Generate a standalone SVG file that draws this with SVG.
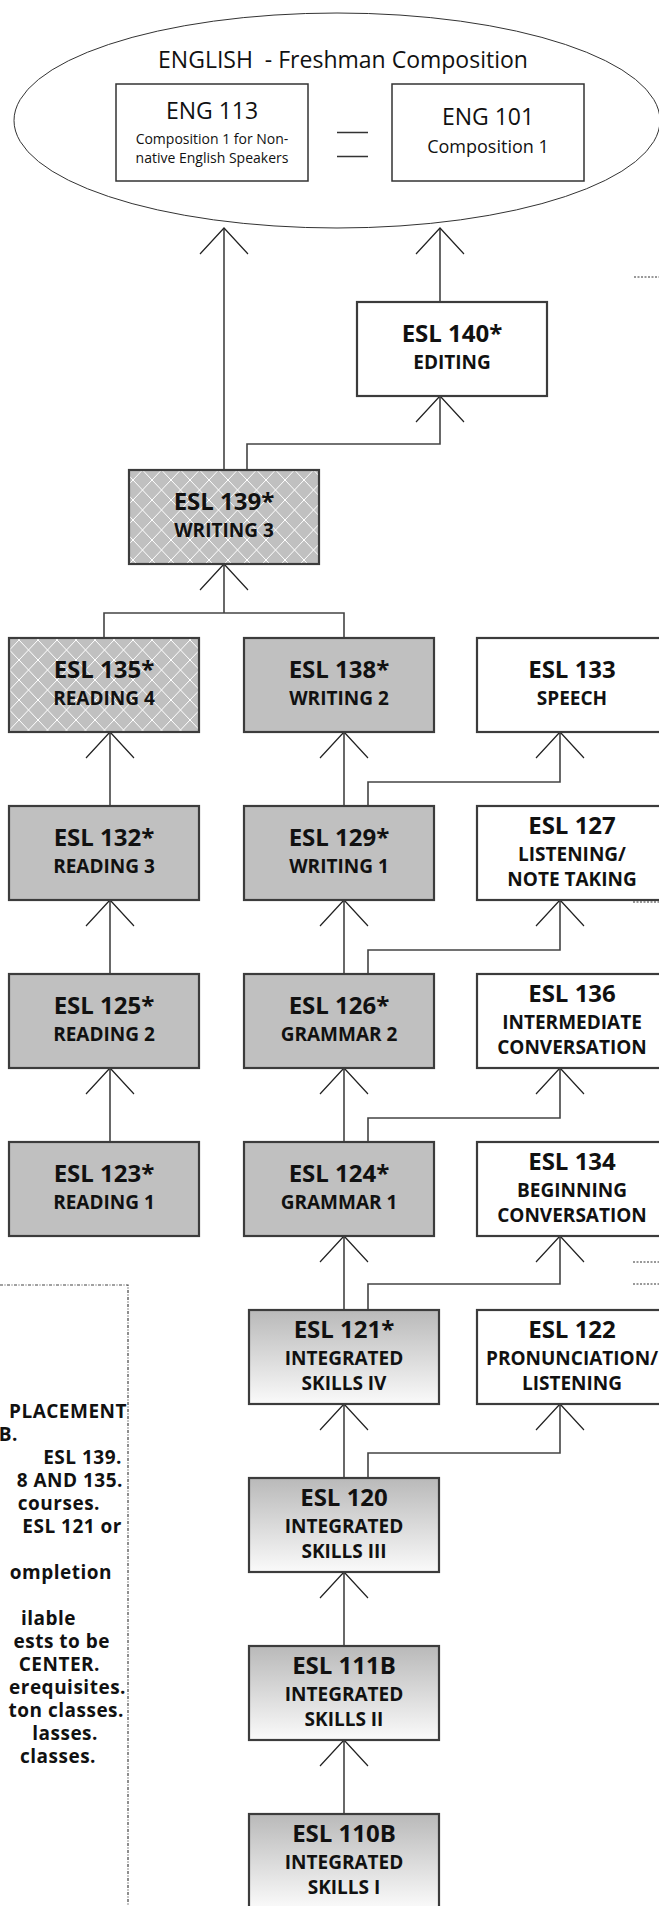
<svg xmlns="http://www.w3.org/2000/svg" width="659" height="1906" viewBox="0 0 659 1906">
<style>
.t{font-family:"Open Sans","Noto Sans","DejaVu Sans",sans-serif;fill:#111;text-anchor:middle}
.h{font-size:24px;font-weight:700}
.s{font-size:19px;font-weight:700}
.eng{font-size:23px}
.box{stroke:#3c3c3c;stroke-width:2.2}
.gray{fill:#c0c0c0}
.white{fill:#fff}
.hatch{fill:url(#hatch)}
.grad{fill:url(#grad)}
.conn{fill:none;stroke:#444;stroke-width:1.6}
.ah{fill:none;stroke:#222;stroke-width:1.2}
.dot{stroke:#333;stroke-width:1;stroke-dasharray:2 1.5}
.note{font-family:"Open Sans","Noto Sans","DejaVu Sans",sans-serif;font-size:19px;font-weight:700;letter-spacing:0.5px;fill:#111;text-anchor:end}
</style>
<defs>
<pattern id="hatch" width="19" height="20" patternUnits="userSpaceOnUse">
<rect width="19" height="20" fill="#c0c0c0"/>
<path d="M-1.9,-2 L20.9,22 M20.9,-2 L-1.9,22" stroke="#fff" stroke-width="1"/>
</pattern>
<linearGradient id="grad" x1="0" y1="0" x2="0" y2="1">
<stop offset="0" stop-color="#b9b9b9"/>
<stop offset="1" stop-color="#fafafa"/>
</linearGradient>
</defs>
<rect width="659" height="1906" fill="#fff"/>

<g id="english">
<ellipse cx="337" cy="120.5" rx="323" ry="107.5" fill="none" stroke="#333" stroke-width="1"/>
<text class="t eng" x="343" y="68">ENGLISH&#160; - Freshman Composition</text>
</g>
<g id="eng113">
<rect x="116" y="84" width="192" height="97" fill="#fff" stroke="#333" stroke-width="1.5"/>
<text class="t eng" x="212" y="119">ENG 113</text>
<text class="t" x="212" y="143.5" font-size="14">Composition 1 for Non-</text>
<text class="t" x="212" y="163" font-size="14">native English Speakers</text>
</g>
<g id="equals">
<path d="M337,132.5 H368 M337,156.5 H368" stroke="#333" stroke-width="1.5"/>
</g>
<g id="eng101">
<rect x="392" y="84" width="192" height="97" fill="#fff" stroke="#333" stroke-width="1.5"/>
<text class="t eng" x="488" y="125">ENG 101</text>
<text class="t" x="488" y="153" font-size="18">Composition 1</text>
</g>

<g id="connectors">
<path class="conn" d="M224,470 V228 M440,302 V228 M247,470 V444 H440 V396"/>
<path class="conn" d="M104,638 V613 H344 V638 M224,613 V564"/>
<path class="conn" d="M110,806 V732 M344,806 V732 M368,806 V782 H560 V732"/>
<path class="conn" d="M110,974 V900 M344,974 V900 M368,974 V950 H560 V900"/>
<path class="conn" d="M110,1142 V1068 M344,1142 V1068 M368,1142 V1118 H560 V1068"/>
<path class="conn" d="M344,1310 V1236 M368,1310 V1284 H560 V1236"/>
<path class="conn" d="M344,1478 V1404 M368,1478 V1453 H560 V1404"/>
<path class="conn" d="M344,1646 V1572 M344,1814 V1740"/>
<path class="ah" d="M200,254 L224,228 L248,254 M416,254 L440,228 L464,254 M416,422 L440,396 L464,422"/>
<path class="ah" d="M200,590 L224,564 L248,590"/>
<path class="ah" d="M86,758 L110,732 L134,758 M320,758 L344,732 L368,758 M536,758 L560,732 L584,758"/>
<path class="ah" d="M86,926 L110,900 L134,926 M320,926 L344,900 L368,926 M536,926 L560,900 L584,926"/>
<path class="ah" d="M86,1094 L110,1068 L134,1094 M320,1094 L344,1068 L368,1094 M536,1094 L560,1068 L584,1094"/>
<path class="ah" d="M320,1262 L344,1236 L368,1262 M536,1262 L560,1236 L584,1262"/>
<path class="ah" d="M320,1430 L344,1404 L368,1430 M536,1430 L560,1404 L584,1430"/>
<path class="ah" d="M320,1598 L344,1572 L368,1598 M320,1766 L344,1740 L368,1766"/>
<path class="dot" d="M634,277 H659 M633,877 H659 M633,902 H659 M633,1262 H659 M633,1284 H659"/>
</g>

<g id="esl140"><rect class="box white" x="357" y="302" width="190" height="94"/>
<text class="t h" x="452" y="342">ESL 140*</text><text class="t s" x="452" y="369">EDITING</text></g>
<g id="esl139"><rect class="box hatch" x="129" y="470" width="190" height="94"/>
<text class="t h" x="224" y="510">ESL 139*</text><text class="t s" x="224" y="537">WRITING 3</text></g>

<g id="esl135"><rect class="box hatch" x="9" y="638" width="190" height="94"/>
<text class="t h" x="104" y="678">ESL 135*</text><text class="t s" x="104" y="705">READING 4</text></g>
<g id="esl138"><rect class="box gray" x="244" y="638" width="190" height="94"/>
<text class="t h" x="339" y="678">ESL 138*</text><text class="t s" x="339" y="705">WRITING 2</text></g>
<g id="esl133"><rect class="box white" x="477" y="638" width="190" height="94"/>
<text class="t h" x="572" y="678">ESL 133</text><text class="t s" x="572" y="705">SPEECH</text></g>

<g id="esl132"><rect class="box gray" x="9" y="806" width="190" height="94"/>
<text class="t h" x="104" y="846">ESL 132*</text><text class="t s" x="104" y="873">READING 3</text></g>
<g id="esl129"><rect class="box gray" x="244" y="806" width="190" height="94"/>
<text class="t h" x="339" y="846">ESL 129*</text><text class="t s" x="339" y="873">WRITING 1</text></g>
<g id="esl127"><rect class="box white" x="477" y="806" width="190" height="94"/>
<text class="t h" x="572" y="834">ESL 127</text><text class="t s" x="572" y="861">LISTENING/</text><text class="t s" x="572" y="886">NOTE TAKING</text></g>

<g id="esl125"><rect class="box gray" x="9" y="974" width="190" height="94"/>
<text class="t h" x="104" y="1014">ESL 125*</text><text class="t s" x="104" y="1041">READING 2</text></g>
<g id="esl126"><rect class="box gray" x="244" y="974" width="190" height="94"/>
<text class="t h" x="339" y="1014">ESL 126*</text><text class="t s" x="339" y="1041">GRAMMAR 2</text></g>
<g id="esl136"><rect class="box white" x="477" y="974" width="190" height="94"/>
<text class="t h" x="572" y="1002">ESL 136</text><text class="t s" x="572" y="1029">INTERMEDIATE</text><text class="t s" x="572" y="1054">CONVERSATION</text></g>

<g id="esl123"><rect class="box gray" x="9" y="1142" width="190" height="94"/>
<text class="t h" x="104" y="1182">ESL 123*</text><text class="t s" x="104" y="1209">READING 1</text></g>
<g id="esl124"><rect class="box gray" x="244" y="1142" width="190" height="94"/>
<text class="t h" x="339" y="1182">ESL 124*</text><text class="t s" x="339" y="1209">GRAMMAR 1</text></g>
<g id="esl134"><rect class="box white" x="477" y="1142" width="190" height="94"/>
<text class="t h" x="572" y="1170">ESL 134</text><text class="t s" x="572" y="1197">BEGINNING</text><text class="t s" x="572" y="1222">CONVERSATION</text></g>

<g id="esl121"><rect class="box grad" x="249" y="1310" width="190" height="94"/>
<text class="t h" x="344" y="1338">ESL 121*</text><text class="t s" x="344" y="1365">INTEGRATED</text><text class="t s" x="344" y="1390">SKILLS IV</text></g>
<g id="esl122"><rect class="box white" x="477" y="1310" width="190" height="94"/>
<text class="t h" x="572" y="1338">ESL 122</text><text class="t s" x="572" y="1365">PRONUNCIATION/</text><text class="t s" x="572" y="1390">LISTENING</text></g>

<g id="esl120"><rect class="box grad" x="249" y="1478" width="190" height="94"/>
<text class="t h" x="344" y="1506">ESL 120</text><text class="t s" x="344" y="1533">INTEGRATED</text><text class="t s" x="344" y="1558">SKILLS III</text></g>
<g id="esl111b"><rect class="box grad" x="249" y="1646" width="190" height="94"/>
<text class="t h" x="344" y="1674">ESL 111B</text><text class="t s" x="344" y="1701">INTEGRATED</text><text class="t s" x="344" y="1726">SKILLS II</text></g>
<g id="esl110b"><rect class="box grad" x="249" y="1814" width="190" height="94"/>
<text class="t h" x="344" y="1842">ESL 110B</text><text class="t s" x="344" y="1869">INTEGRATED</text><text class="t s" x="344" y="1894">SKILLS I</text></g>

<g id="notes">
<path d="M0,1285 H128 V1906" fill="none" stroke="#444" stroke-width="1.2" stroke-dasharray="3 1.5 1 1.5"/>
<text class="note" x="127" y="1418">PLACEMENT</text>
<text class="note" x="18" y="1441">B.</text>
<text class="note" x="122" y="1464">ESL 139.</text>
<text class="note" x="123" y="1487">8 AND 135.</text>
<text class="note" x="100" y="1510">courses.</text>
<text class="note" x="122" y="1533">ESL 121 or</text>
<text class="note" x="112" y="1579">ompletion</text>
<text class="note" x="76" y="1625">ilable</text>
<text class="note" x="110" y="1648">ests to be</text>
<text class="note" x="100" y="1671">CENTER.</text>
<text class="note" x="126" y="1694">erequisites.</text>
<text class="note" x="124" y="1717">ton classes.</text>
<text class="note" x="98" y="1740">lasses.</text>
<text class="note" x="96" y="1763">classes.</text>
</g>
</svg>
